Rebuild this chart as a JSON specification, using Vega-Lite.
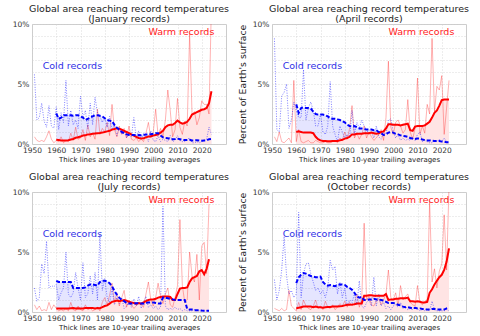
{
"$schema":"https://vega.github.io/schema/vega-lite/v6.json",
"padding":{"left":11,"top":3,"right":0,"bottom":0},
"config":{"font":"DejaVu Sans","view":{"stroke":"#cccccc","strokeWidth":1},
"axis":{"labelFont":"DejaVu Sans","labelFontSize":7.5,"labelColor":"#333333","labelOverlap":false,"domain":false,"ticks":false,"gridColor":"#d0d0d0","gridDash":[1,2],"gridWidth":0.8,"titleFont":"DejaVu Sans","titleFontWeight":"normal","titleColor":"#222222"},
"title":{"font":"DejaVu Sans","fontSize":9.5,"fontWeight":"normal","color":"#222222","lineHeight":10,"offset":-3,"frame":"group"}},
"datasets":{"d":[
{"m":"Jan","yr":1951,"c":5.8,"w":0.6},{"m":"Jan","yr":1952,"c":2.0,"w":0.3},{"m":"Jan","yr":1953,"c":2.2,"w":0.2},{"m":"Jan","yr":1954,"c":3.4,"w":0.3},{"m":"Jan","yr":1955,"c":1.9,"w":0.2},{"m":"Jan","yr":1956,"c":1.4,"w":0.6},{"m":"Jan","yr":1957,"c":3.2,"w":1.1},{"m":"Jan","yr":1958,"c":1.5,"w":0.4},{"m":"Jan","yr":1959,"c":1.3,"w":0.1},
{"m":"Jan","yr":1960,"c":3.1,"w":0.3,"ca":2.55,"wa":0.35},{"m":"Jan","yr":1961,"c":1.2,"w":0.2,"ca":2.1,"wa":0.33},{"m":"Jan","yr":1962,"c":2.6,"w":0.6,"ca":2.2,"wa":0.3},{"m":"Jan","yr":1963,"c":1.8,"w":0.1,"ca":2.4,"wa":0.3},{"m":"Jan","yr":1964,"c":5.3,"w":0.3,"ca":2.4,"wa":0.3},{"m":"Jan","yr":1965,"c":1.5,"w":0.2,"ca":2.4,"wa":0.32},{"m":"Jan","yr":1966,"c":2.8,"w":0.9,"ca":2.4,"wa":0.38},{"m":"Jan","yr":1967,"c":1.6,"w":0.3,"ca":2.35,"wa":0.42},{"m":"Jan","yr":1968,"c":2.0,"w":1.4,"ca":2.4,"wa":0.52},{"m":"Jan","yr":1969,"c":1.3,"w":0.4,"ca":2.4,"wa":0.56},
{"m":"Jan","yr":1970,"c":4.0,"w":0.5,"ca":2.3,"wa":0.62},{"m":"Jan","yr":1971,"c":2.2,"w":1.2,"ca":2.2,"wa":0.7},{"m":"Jan","yr":1972,"c":2.8,"w":0.3,"ca":2.0,"wa":0.72},{"m":"Jan","yr":1973,"c":1.3,"w":1.6,"ca":2.1,"wa":0.8},{"m":"Jan","yr":1974,"c":3.4,"w":0.6,"ca":2.2,"wa":0.82},{"m":"Jan","yr":1975,"c":1.6,"w":0.9,"ca":2.3,"wa":0.85},{"m":"Jan","yr":1976,"c":3.9,"w":0.4,"ca":2.4,"wa":0.88},{"m":"Jan","yr":1977,"c":2.6,"w":2.9,"ca":2.4,"wa":0.9},{"m":"Jan","yr":1978,"c":2.3,"w":0.8,"ca":2.35,"wa":0.92},{"m":"Jan","yr":1979,"c":1.8,"w":1.3,"ca":2.3,"wa":0.95},
{"m":"Jan","yr":1980,"c":2.2,"w":1.0,"ca":2.15,"wa":1.0},{"m":"Jan","yr":1981,"c":1.4,"w":1.8,"ca":2.0,"wa":1.05},{"m":"Jan","yr":1982,"c":2.3,"w":0.7,"ca":1.95,"wa":1.1},{"m":"Jan","yr":1983,"c":1.2,"w":3.3,"ca":1.9,"wa":1.2},{"m":"Jan","yr":1984,"c":1.6,"w":1.2,"ca":1.6,"wa":1.25},{"m":"Jan","yr":1985,"c":0.7,"w":0.6,"ca":1.35,"wa":1.3},{"m":"Jan","yr":1986,"c":1.3,"w":1.5,"ca":1.2,"wa":1.28},{"m":"Jan","yr":1987,"c":0.8,"w":0.8,"ca":1.0,"wa":1.2},{"m":"Jan","yr":1988,"c":1.1,"w":1.3,"ca":0.9,"wa":1.1},{"m":"Jan","yr":1989,"c":0.5,"w":0.5,"ca":0.8,"wa":1.0},
{"m":"Jan","yr":1990,"c":0.9,"w":1.5,"ca":0.75,"wa":0.9},{"m":"Jan","yr":1991,"c":0.6,"w":0.4,"ca":0.75,"wa":0.8},{"m":"Jan","yr":1992,"c":2.2,"w":0.3,"ca":0.75,"wa":0.7},{"m":"Jan","yr":1993,"c":0.5,"w":0.5,"ca":0.72,"wa":0.6},{"m":"Jan","yr":1994,"c":1.1,"w":0.2,"ca":0.75,"wa":0.5},{"m":"Jan","yr":1995,"c":0.4,"w":0.4,"ca":0.72,"wa":0.45},{"m":"Jan","yr":1996,"c":0.9,"w":0.2,"ca":0.75,"wa":0.47},{"m":"Jan","yr":1997,"c":0.6,"w":0.9,"ca":0.8,"wa":0.55},{"m":"Jan","yr":1998,"c":0.2,"w":1.8,"ca":0.8,"wa":0.62},{"m":"Jan","yr":1999,"c":1.1,"w":0.5,"ca":0.82,"wa":0.65},
{"m":"Jan","yr":2000,"c":0.3,"w":1.0,"ca":0.85,"wa":0.7},{"m":"Jan","yr":2001,"c":0.2,"w":2.9,"ca":0.9,"wa":0.75},{"m":"Jan","yr":2002,"c":0.7,"w":0.7,"ca":0.9,"wa":0.8},{"m":"Jan","yr":2003,"c":0.2,"w":1.3,"ca":0.7,"wa":0.95},{"m":"Jan","yr":2004,"c":0.4,"w":0.6,"ca":0.55,"wa":1.1},{"m":"Jan","yr":2005,"c":0.3,"w":2.0,"ca":0.5,"wa":1.4},{"m":"Jan","yr":2006,"c":0.2,"w":4.5,"ca":0.48,"wa":1.55},{"m":"Jan","yr":2007,"c":0.7,"w":2.8,"ca":0.42,"wa":1.6},{"m":"Jan","yr":2008,"c":0.2,"w":0.6,"ca":0.4,"wa":1.6},{"m":"Jan","yr":2009,"c":0.3,"w":1.2,"ca":0.42,"wa":1.75},
{"m":"Jan","yr":2010,"c":0.7,"w":3.8,"ca":0.45,"wa":1.95},{"m":"Jan","yr":2011,"c":0.3,"w":1.4,"ca":0.4,"wa":1.8},{"m":"Jan","yr":2012,"c":0.2,"w":0.8,"ca":0.35,"wa":1.7},{"m":"Jan","yr":2013,"c":0.2,"w":1.9,"ca":0.33,"wa":1.75},{"m":"Jan","yr":2014,"c":0.4,"w":1.5,"ca":0.33,"wa":1.85},{"m":"Jan","yr":2015,"c":0.5,"w":9.2,"ca":0.35,"wa":2.1},{"m":"Jan","yr":2016,"c":0.1,"w":2.5,"ca":0.3,"wa":2.45},{"m":"Jan","yr":2017,"c":0.1,"w":2.7,"ca":0.3,"wa":2.55},{"m":"Jan","yr":2018,"c":0.2,"w":1.6,"ca":0.32,"wa":2.65},{"m":"Jan","yr":2019,"c":0.1,"w":2.2,"ca":0.3,"wa":2.75},
{"m":"Jan","yr":2020,"c":0.2,"w":3.6,"ca":0.28,"wa":2.85},{"m":"Jan","yr":2021,"c":0.3,"w":3.3,"ca":0.3,"wa":2.9},{"m":"Jan","yr":2022,"c":0.4,"w":3.3,"ca":0.3,"wa":3.0},{"m":"Jan","yr":2023,"c":1.4,"w":2.5,"ca":0.4,"wa":3.4},{"m":"Jan","yr":2024,"c":0.8,"w":11.8,"ca":0.42,"wa":4.4},

{"m":"Apr","yr":1951,"c":8.8,"w":0.6},{"m":"Apr","yr":1952,"c":1.2,"w":0.2},{"m":"Apr","yr":1953,"c":1.0,"w":1.0},{"m":"Apr","yr":1954,"c":4.0,"w":0.2},{"m":"Apr","yr":1955,"c":4.3,"w":0.1},{"m":"Apr","yr":1956,"c":5.0,"w":0.3},{"m":"Apr","yr":1957,"c":1.3,"w":0.5},{"m":"Apr","yr":1958,"c":2.0,"w":0.1},{"m":"Apr","yr":1959,"c":3.5,"w":5.3},
{"m":"Apr","yr":1960,"c":2.8,"w":0.2,"ca":3.3,"wa":1.0},{"m":"Apr","yr":1961,"c":2.2,"w":1.2,"ca":2.6,"wa":1.05},{"m":"Apr","yr":1962,"c":2.2,"w":0.2,"ca":3.0,"wa":1.0},{"m":"Apr","yr":1963,"c":6.2,"w":0.1,"ca":3.05,"wa":0.95},{"m":"Apr","yr":1964,"c":2.0,"w":0.2,"ca":3.0,"wa":0.95},{"m":"Apr","yr":1965,"c":3.0,"w":0.3,"ca":3.0,"wa":0.95},{"m":"Apr","yr":1966,"c":3.5,"w":0.1,"ca":2.95,"wa":0.95},{"m":"Apr","yr":1967,"c":2.8,"w":0.1,"ca":2.7,"wa":0.9},{"m":"Apr","yr":1968,"c":1.5,"w":0.3,"ca":2.5,"wa":0.6},{"m":"Apr","yr":1969,"c":1.5,"w":0.2,"ca":2.45,"wa":0.4},
{"m":"Apr","yr":1970,"c":2.5,"w":0.1,"ca":2.45,"wa":0.3},{"m":"Apr","yr":1971,"c":1.0,"w":0.1,"ca":2.45,"wa":0.25},{"m":"Apr","yr":1972,"c":0.8,"w":0.2,"ca":2.4,"wa":0.25},{"m":"Apr","yr":1973,"c":1.5,"w":0.1,"ca":2.3,"wa":0.22},{"m":"Apr","yr":1974,"c":5.2,"w":0.1,"ca":2.15,"wa":0.22},{"m":"Apr","yr":1975,"c":1.5,"w":0.2,"ca":2.1,"wa":0.25},{"m":"Apr","yr":1976,"c":0.8,"w":0.3,"ca":2.1,"wa":0.25},{"m":"Apr","yr":1977,"c":0.2,"w":0.1,"ca":2.05,"wa":0.25},{"m":"Apr","yr":1978,"c":1.5,"w":0.5,"ca":2.0,"wa":0.3},{"m":"Apr","yr":1979,"c":1.0,"w":0.3,"ca":1.9,"wa":0.35},
{"m":"Apr","yr":1980,"c":0.5,"w":1.0,"ca":1.8,"wa":0.45},{"m":"Apr","yr":1981,"c":0.8,"w":0.4,"ca":1.6,"wa":0.5},{"m":"Apr","yr":1982,"c":0.5,"w":1.3,"ca":1.5,"wa":0.6},{"m":"Apr","yr":1983,"c":2.8,"w":3.2,"ca":1.45,"wa":0.8},{"m":"Apr","yr":1984,"c":0.8,"w":0.5,"ca":1.5,"wa":0.8},{"m":"Apr","yr":1985,"c":1.8,"w":0.9,"ca":1.4,"wa":0.85},{"m":"Apr","yr":1986,"c":1.3,"w":0.4,"ca":1.3,"wa":0.85},{"m":"Apr","yr":1987,"c":2.0,"w":0.8,"ca":1.3,"wa":0.85},{"m":"Apr","yr":1988,"c":1.5,"w":1.5,"ca":1.25,"wa":0.9},{"m":"Apr","yr":1989,"c":1.2,"w":0.5,"ca":1.2,"wa":0.9},
{"m":"Apr","yr":1990,"c":0.8,"w":1.0,"ca":1.2,"wa":0.9},{"m":"Apr","yr":1991,"c":1.0,"w":0.6,"ca":1.2,"wa":0.95},{"m":"Apr","yr":1992,"c":0.5,"w":0.3,"ca":1.15,"wa":0.9},{"m":"Apr","yr":1993,"c":1.5,"w":0.5,"ca":1.15,"wa":0.85},{"m":"Apr","yr":1994,"c":0.6,"w":0.8,"ca":1.0,"wa":0.9},{"m":"Apr","yr":1995,"c":0.4,"w":1.2,"ca":0.9,"wa":1.0},{"m":"Apr","yr":1996,"c":1.0,"w":0.3,"ca":0.75,"wa":1.05},{"m":"Apr","yr":1997,"c":0.8,"w":2.2,"ca":0.8,"wa":1.3},{"m":"Apr","yr":1998,"c":2.0,"w":6.9,"ca":0.95,"wa":1.65},{"m":"Apr","yr":1999,"c":2.1,"w":1.4,"ca":1.0,"wa":1.65},
{"m":"Apr","yr":2000,"c":1.0,"w":0.8,"ca":0.95,"wa":1.6},{"m":"Apr","yr":2001,"c":0.5,"w":1.8,"ca":0.85,"wa":1.6},{"m":"Apr","yr":2002,"c":0.8,"w":2.0,"ca":0.8,"wa":1.6},{"m":"Apr","yr":2003,"c":0.3,"w":1.5,"ca":0.72,"wa":1.55},{"m":"Apr","yr":2004,"c":0.5,"w":0.9,"ca":0.68,"wa":1.6},{"m":"Apr","yr":2005,"c":0.3,"w":1.2,"ca":0.65,"wa":1.65},{"m":"Apr","yr":2006,"c":0.4,"w":3.7,"ca":0.6,"wa":1.7},{"m":"Apr","yr":2007,"c":0.3,"w":1.0,"ca":0.5,"wa":1.15},{"m":"Apr","yr":2008,"c":0.6,"w":0.4,"ca":0.45,"wa":1.1},{"m":"Apr","yr":2009,"c":0.3,"w":1.3,"ca":0.42,"wa":1.45},
{"m":"Apr","yr":2010,"c":0.8,"w":5.5,"ca":0.45,"wa":1.5},{"m":"Apr","yr":2011,"c":1.0,"w":0.8,"ca":0.45,"wa":1.5},{"m":"Apr","yr":2012,"c":0.2,"w":1.5,"ca":0.38,"wa":1.5},{"m":"Apr","yr":2013,"c":0.3,"w":0.9,"ca":0.32,"wa":1.55},{"m":"Apr","yr":2014,"c":0.2,"w":3.3,"ca":0.3,"wa":1.7},{"m":"Apr","yr":2015,"c":0.1,"w":2.5,"ca":0.3,"wa":1.85},{"m":"Apr","yr":2016,"c":0.1,"w":8.8,"ca":0.27,"wa":2.2},{"m":"Apr","yr":2017,"c":0.3,"w":2.7,"ca":0.25,"wa":2.6},{"m":"Apr","yr":2018,"c":0.2,"w":4.8,"ca":0.25,"wa":2.8},{"m":"Apr","yr":2019,"c":0.4,"w":4.5,"ca":0.25,"wa":3.2},
{"m":"Apr","yr":2020,"c":0.2,"w":5.7,"ca":0.2,"wa":3.65},{"m":"Apr","yr":2021,"c":0.5,"w":0.8,"ca":0.2,"wa":3.7},{"m":"Apr","yr":2022,"c":0.2,"w":3.0,"ca":0.15,"wa":3.7},{"m":"Apr","yr":2023,"c":0.1,"w":5.3,"ca":0.15,"wa":3.7},

{"m":"Jul","yr":1951,"c":2.0,"w":0.6},{"m":"Jul","yr":1952,"c":0.9,"w":0.2},{"m":"Jul","yr":1953,"c":1.2,"w":0.5},{"m":"Jul","yr":1954,"c":4.0,"w":0.1},{"m":"Jul","yr":1955,"c":3.2,"w":0.2},{"m":"Jul","yr":1956,"c":5.9,"w":0.1},{"m":"Jul","yr":1957,"c":2.0,"w":0.8},{"m":"Jul","yr":1958,"c":2.2,"w":0.2},{"m":"Jul","yr":1959,"c":2.1,"w":0.6},
{"m":"Jul","yr":1960,"c":2.3,"w":0.3,"ca":2.6,"wa":0.3},{"m":"Jul","yr":1961,"c":1.0,"w":0.1,"ca":2.5,"wa":0.3},{"m":"Jul","yr":1962,"c":1.6,"w":0.2,"ca":2.5,"wa":0.3},{"m":"Jul","yr":1963,"c":2.0,"w":0.1,"ca":2.5,"wa":0.3},{"m":"Jul","yr":1964,"c":5.0,"w":0.3,"ca":2.5,"wa":0.3},{"m":"Jul","yr":1965,"c":1.5,"w":0.1,"ca":2.5,"wa":0.3},{"m":"Jul","yr":1966,"c":1.2,"w":0.8,"ca":2.5,"wa":0.32},{"m":"Jul","yr":1967,"c":1.6,"w":0.2,"ca":2.0,"wa":0.33},{"m":"Jul","yr":1968,"c":3.3,"w":0.1,"ca":2.0,"wa":0.3},{"m":"Jul","yr":1969,"c":2.0,"w":0.5,"ca":2.0,"wa":0.32},
{"m":"Jul","yr":1970,"c":1.0,"w":0.2,"ca":2.0,"wa":0.3},{"m":"Jul","yr":1971,"c":4.1,"w":0.1,"ca":2.0,"wa":0.3},{"m":"Jul","yr":1972,"c":1.2,"w":0.6,"ca":2.05,"wa":0.33},{"m":"Jul","yr":1973,"c":1.5,"w":0.2,"ca":2.2,"wa":0.33},{"m":"Jul","yr":1974,"c":3.0,"w":0.3,"ca":2.3,"wa":0.33},{"m":"Jul","yr":1975,"c":1.5,"w":0.1,"ca":2.3,"wa":0.33},{"m":"Jul","yr":1976,"c":3.3,"w":0.2,"ca":2.25,"wa":0.3},{"m":"Jul","yr":1977,"c":1.0,"w":0.4,"ca":2.2,"wa":0.33},{"m":"Jul","yr":1978,"c":6.5,"w":0.1,"ca":2.5,"wa":0.32},{"m":"Jul","yr":1979,"c":1.8,"w":0.8,"ca":2.6,"wa":0.4},
{"m":"Jul","yr":1980,"c":2.8,"w":1.2,"ca":2.6,"wa":0.5},{"m":"Jul","yr":1981,"c":1.2,"w":0.6,"ca":2.55,"wa":0.55},{"m":"Jul","yr":1982,"c":0.8,"w":1.4,"ca":2.4,"wa":0.7},{"m":"Jul","yr":1983,"c":1.9,"w":2.4,"ca":2.15,"wa":0.85},{"m":"Jul","yr":1984,"c":0.6,"w":0.8,"ca":1.75,"wa":0.9},{"m":"Jul","yr":1985,"c":1.2,"w":1.6,"ca":1.45,"wa":0.95},{"m":"Jul","yr":1986,"c":0.7,"w":0.5,"ca":1.2,"wa":0.9},{"m":"Jul","yr":1987,"c":1.2,"w":1.2,"ca":1.0,"wa":0.95},{"m":"Jul","yr":1988,"c":0.3,"w":1.8,"ca":0.9,"wa":1.0},{"m":"Jul","yr":1989,"c":0.5,"w":0.4,"ca":0.75,"wa":0.95},
{"m":"Jul","yr":1990,"c":0.9,"w":1.0,"ca":0.7,"wa":0.85},{"m":"Jul","yr":1991,"c":0.4,"w":0.6,"ca":0.7,"wa":0.8},{"m":"Jul","yr":1992,"c":1.1,"w":0.3,"ca":0.7,"wa":0.75},{"m":"Jul","yr":1993,"c":0.5,"w":0.5,"ca":0.72,"wa":0.7},{"m":"Jul","yr":1994,"c":1.3,"w":0.8,"ca":0.72,"wa":0.75},{"m":"Jul","yr":1995,"c":0.3,"w":0.6,"ca":0.7,"wa":0.7},{"m":"Jul","yr":1996,"c":0.8,"w":0.4,"ca":0.7,"wa":0.8},{"m":"Jul","yr":1997,"c":1.3,"w":1.5,"ca":0.75,"wa":0.9},{"m":"Jul","yr":1998,"c":0.4,"w":2.5,"ca":0.8,"wa":1.0},{"m":"Jul","yr":1999,"c":0.6,"w":1.0,"ca":0.8,"wa":1.05},
{"m":"Jul","yr":2000,"c":0.3,"w":0.5,"ca":0.8,"wa":1.05},{"m":"Jul","yr":2001,"c":0.5,"w":1.2,"ca":0.75,"wa":1.1},{"m":"Jul","yr":2002,"c":0.2,"w":2.4,"ca":0.7,"wa":1.2},{"m":"Jul","yr":2003,"c":0.4,"w":1.3,"ca":0.7,"wa":1.25},{"m":"Jul","yr":2004,"c":8.8,"w":0.7,"ca":1.2,"wa":1.3},{"m":"Jul","yr":2005,"c":0.5,"w":1.5,"ca":1.2,"wa":1.3},{"m":"Jul","yr":2006,"c":0.2,"w":2.0,"ca":1.15,"wa":1.3},{"m":"Jul","yr":2007,"c":0.3,"w":0.6,"ca":1.1,"wa":1.25},{"m":"Jul","yr":2008,"c":0.2,"w":0.4,"ca":1.05,"wa":1.0},{"m":"Jul","yr":2009,"c":0.4,"w":1.2,"ca":1.0,"wa":1.0},
{"m":"Jul","yr":2010,"c":0.2,"w":2.2,"ca":1.0,"wa":1.5},{"m":"Jul","yr":2011,"c":0.3,"w":7.7,"ca":1.0,"wa":1.95},{"m":"Jul","yr":2012,"c":0.1,"w":2.2,"ca":1.0,"wa":2.0},{"m":"Jul","yr":2013,"c":0.2,"w":0.8,"ca":1.0,"wa":2.0},{"m":"Jul","yr":2014,"c":0.1,"w":1.0,"ca":0.25,"wa":2.05},{"m":"Jul","yr":2015,"c":0.1,"w":5.0,"ca":0.2,"wa":2.5},{"m":"Jul","yr":2016,"c":0.1,"w":3.0,"ca":0.2,"wa":2.8},{"m":"Jul","yr":2017,"c":0.2,"w":2.5,"ca":0.15,"wa":2.9},{"m":"Jul","yr":2018,"c":0.1,"w":4.8,"ca":0.15,"wa":3.0},{"m":"Jul","yr":2019,"c":0.1,"w":1.0,"ca":0.15,"wa":3.4},
{"m":"Jul","yr":2020,"c":0.1,"w":5.5,"ca":0.12,"wa":3.5},{"m":"Jul","yr":2021,"c":0.1,"w":5.8,"ca":0.1,"wa":3.15},{"m":"Jul","yr":2022,"c":0.1,"w":3.2,"ca":0.1,"wa":3.6},{"m":"Jul","yr":2023,"c":0.1,"w":9.0,"ca":0.1,"wa":4.4},

{"m":"Oct","yr":1951,"c":2.7,"w":0.3},{"m":"Oct","yr":1952,"c":1.0,"w":0.2},{"m":"Oct","yr":1953,"c":1.8,"w":0.1},{"m":"Oct","yr":1954,"c":3.5,"w":0.3},{"m":"Oct","yr":1955,"c":6.3,"w":0.1},{"m":"Oct","yr":1956,"c":3.0,"w":0.2},{"m":"Oct","yr":1957,"c":1.5,"w":1.8},{"m":"Oct","yr":1958,"c":1.8,"w":0.5},{"m":"Oct","yr":1959,"c":1.2,"w":0.3},
{"m":"Oct","yr":1960,"c":1.5,"w":0.1,"ca":2.4,"wa":0.3},{"m":"Oct","yr":1961,"c":8.3,"w":0.8,"ca":2.9,"wa":0.35},{"m":"Oct","yr":1962,"c":1.2,"w":0.2,"ca":3.1,"wa":0.4},{"m":"Oct","yr":1963,"c":3.2,"w":1.0,"ca":3.25,"wa":0.45},{"m":"Oct","yr":1964,"c":4.0,"w":0.5,"ca":3.2,"wa":0.45},{"m":"Oct","yr":1965,"c":4.1,"w":0.3,"ca":3.1,"wa":0.45},{"m":"Oct","yr":1966,"c":3.2,"w":0.2,"ca":3.0,"wa":0.45},{"m":"Oct","yr":1967,"c":2.5,"w":0.5,"ca":2.95,"wa":0.4},{"m":"Oct","yr":1968,"c":1.8,"w":1.0,"ca":2.9,"wa":0.45},{"m":"Oct","yr":1969,"c":2.0,"w":0.3,"ca":2.9,"wa":0.4},
{"m":"Oct","yr":1970,"c":1.5,"w":0.5,"ca":2.95,"wa":0.4},{"m":"Oct","yr":1971,"c":1.8,"w":0.2,"ca":2.5,"wa":0.35},{"m":"Oct","yr":1972,"c":1.2,"w":0.9,"ca":2.3,"wa":0.4},{"m":"Oct","yr":1973,"c":2.0,"w":0.4,"ca":2.2,"wa":0.42},{"m":"Oct","yr":1974,"c":4.3,"w":0.3,"ca":2.25,"wa":0.42},{"m":"Oct","yr":1975,"c":3.5,"w":0.6,"ca":2.2,"wa":0.45},{"m":"Oct","yr":1976,"c":3.8,"w":0.2,"ca":2.15,"wa":0.45},{"m":"Oct","yr":1977,"c":1.5,"w":0.4,"ca":2.25,"wa":0.45},{"m":"Oct","yr":1978,"c":2.5,"w":0.7,"ca":2.3,"wa":0.48},{"m":"Oct","yr":1979,"c":1.2,"w":0.5,"ca":2.3,"wa":0.5},
{"m":"Oct","yr":1980,"c":2.0,"w":0.9,"ca":2.25,"wa":0.55},{"m":"Oct","yr":1981,"c":0.5,"w":0.4,"ca":2.1,"wa":0.6},{"m":"Oct","yr":1982,"c":1.0,"w":0.8,"ca":2.0,"wa":0.6},{"m":"Oct","yr":1983,"c":0.8,"w":0.5,"ca":1.85,"wa":0.62},{"m":"Oct","yr":1984,"c":1.5,"w":0.7,"ca":1.6,"wa":0.65},{"m":"Oct","yr":1985,"c":0.6,"w":1.5,"ca":1.3,"wa":0.7},{"m":"Oct","yr":1986,"c":2.6,"w":0.4,"ca":1.2,"wa":0.7},{"m":"Oct","yr":1987,"c":0.5,"w":1.0,"ca":1.25,"wa":0.7},{"m":"Oct","yr":1988,"c":0.3,"w":7.4,"ca":1.0,"wa":1.35},{"m":"Oct","yr":1989,"c":0.8,"w":1.0,"ca":1.0,"wa":1.35},
{"m":"Oct","yr":1990,"c":1.0,"w":1.3,"ca":1.05,"wa":1.4},{"m":"Oct","yr":1991,"c":0.5,"w":0.6,"ca":1.05,"wa":1.4},{"m":"Oct","yr":1992,"c":2.9,"w":0.5,"ca":1.1,"wa":1.35},{"m":"Oct","yr":1993,"c":0.5,"w":0.9,"ca":1.05,"wa":1.35},{"m":"Oct","yr":1994,"c":1.5,"w":1.1,"ca":1.05,"wa":1.35},{"m":"Oct","yr":1995,"c":0.5,"w":0.6,"ca":1.0,"wa":1.35},{"m":"Oct","yr":1996,"c":0.8,"w":1.0,"ca":0.95,"wa":1.35},{"m":"Oct","yr":1997,"c":0.3,"w":1.5,"ca":0.85,"wa":1.5},{"m":"Oct","yr":1998,"c":0.5,"w":3.5,"ca":0.75,"wa":1.0},{"m":"Oct","yr":1999,"c":0.2,"w":1.2,"ca":0.75,"wa":1.05},
{"m":"Oct","yr":2000,"c":0.5,"w":1.0,"ca":0.75,"wa":1.05},{"m":"Oct","yr":2001,"c":0.6,"w":1.6,"ca":0.7,"wa":1.1},{"m":"Oct","yr":2002,"c":0.4,"w":0.5,"ca":0.6,"wa":1.1},{"m":"Oct","yr":2003,"c":0.8,"w":2.2,"ca":0.55,"wa":1.15},{"m":"Oct","yr":2004,"c":0.3,"w":1.0,"ca":0.45,"wa":1.15},{"m":"Oct","yr":2005,"c":0.5,"w":1.3,"ca":0.4,"wa":1.15},{"m":"Oct","yr":2006,"c":0.2,"w":1.5,"ca":0.4,"wa":1.2},{"m":"Oct","yr":2007,"c":0.3,"w":0.8,"ca":0.35,"wa":0.9},{"m":"Oct","yr":2008,"c":0.2,"w":0.6,"ca":0.3,"wa":0.9},{"m":"Oct","yr":2009,"c":0.4,"w":0.5,"ca":0.35,"wa":0.85},
{"m":"Oct","yr":2010,"c":0.3,"w":2.2,"ca":0.3,"wa":0.9},{"m":"Oct","yr":2011,"c":0.1,"w":0.8,"ca":0.3,"wa":0.85},{"m":"Oct","yr":2012,"c":0.2,"w":0.6,"ca":0.25,"wa":0.8},{"m":"Oct","yr":2013,"c":0.1,"w":0.9,"ca":0.25,"wa":0.8},{"m":"Oct","yr":2014,"c":0.2,"w":1.0,"ca":0.2,"wa":0.85},{"m":"Oct","yr":2015,"c":0.1,"w":9.2,"ca":0.2,"wa":1.6},{"m":"Oct","yr":2016,"c":0.9,"w":2.5,"ca":0.25,"wa":1.9},{"m":"Oct","yr":2017,"c":0.2,"w":3.6,"ca":0.25,"wa":2.3},{"m":"Oct","yr":2018,"c":0.1,"w":2.0,"ca":0.2,"wa":2.6},{"m":"Oct","yr":2019,"c":0.1,"w":3.4,"ca":0.2,"wa":2.9},
{"m":"Oct","yr":2020,"c":0.1,"w":4.0,"ca":0.2,"wa":3.1},{"m":"Oct","yr":2021,"c":0.1,"w":8.1,"ca":0.2,"wa":3.5},{"m":"Oct","yr":2022,"c":0.2,"w":3.5,"ca":0.3,"wa":4.2},{"m":"Oct","yr":2023,"c":0.1,"w":10.5,"ca":0.35,"wa":5.3}
]},
"columns":2,
"bounds":"flush",
"spacing":{"row":48,"column":46},
"concat":[
{"width":194,"height":120,"title":{"text":["Global area reaching record temperatures","(January records)"]},
"layer":[
{"data":{"name":"d"},"transform":[{"filter":"datum.m == 'Jan'"}],
"encoding":{"x":{"field":"yr","type":"quantitative","scale":{"domain":[1950,2030],"nice":false,"zero":false},"axis":{"values":[1950,1960,1970,1980,1990,2000,2010,2020],"format":"d","labelFlush":false,"labelOverlap":false,"title":"Thick lines are 10-year trailing averages","titleFontSize":7,"labelPadding":2,"titlePadding":2}}},
"layer":[
{"mark":{"type":"area","color":"#0000ff","opacity":0.1},"encoding":{"y":{"field":"ca","type":"quantitative","scale":{"domain":[0,10]},"axis":{"title":null,"values":[0,1,2,3,4,5,6,7,8,9,10],"labelExpr":"datum.value % 5 == 0 ? datum.value + '%' : ''","labelOverlap":false,"labelPadding":3}}}},
{"mark":{"type":"area","color":"#ffe4e4","opacity":1},"encoding":{"y":{"field":"wa","type":"quantitative","scale":{"domain":[0,10]},"axis":{"title":null,"values":[0,1,2,3,4,5,6,7,8,9,10],"labelExpr":"datum.value % 5 == 0 ? datum.value + '%' : ''","labelOverlap":false,"labelPadding":3}}}},
{"mark":{"type":"line","color":"#ff0000","strokeWidth":1,"opacity":0.3,"clip":true},"encoding":{"y":{"field":"w","type":"quantitative","scale":{"domain":[0,10]},"axis":{"title":null,"values":[0,1,2,3,4,5,6,7,8,9,10],"labelExpr":"datum.value % 5 == 0 ? datum.value + '%' : ''","labelOverlap":false,"labelPadding":3}}}},
{"mark":{"type":"line","color":"#0000ff","strokeWidth":1,"opacity":0.5,"strokeDash":[1,1.5]},"encoding":{"y":{"field":"c","type":"quantitative","scale":{"domain":[0,10]},"axis":{"title":null,"values":[0,1,2,3,4,5,6,7,8,9,10],"labelExpr":"datum.value % 5 == 0 ? datum.value + '%' : ''","labelOverlap":false,"labelPadding":3}}}},
{"mark":{"type":"line","color":"#ff0000","strokeWidth":2},"encoding":{"y":{"field":"wa","type":"quantitative","scale":{"domain":[0,10]},"axis":{"title":null,"values":[0,1,2,3,4,5,6,7,8,9,10],"labelExpr":"datum.value % 5 == 0 ? datum.value + '%' : ''","labelOverlap":false,"labelPadding":3}}}},
{"mark":{"type":"line","color":"#0000ff","strokeWidth":2,"strokeDash":[4,2]},"encoding":{"y":{"field":"ca","type":"quantitative","scale":{"domain":[0,10]},"axis":{"title":null,"values":[0,1,2,3,4,5,6,7,8,9,10],"labelExpr":"datum.value % 5 == 0 ? datum.value + '%' : ''","labelOverlap":false,"labelPadding":3}}}}
]},
{"data":{"values":[{}]},"mark":{"type":"text","text":"Warm records","align":"right","baseline":"middle","color":"#ff1a1a","fontSize":9.5,"font":"DejaVu Sans"},"encoding":{"x":{"datum":2025.2,"type":"quantitative","scale":{"domain":[1950,2030],"nice":false,"zero":false},"axis":{"values":[1950,1960,1970,1980,1990,2000,2010,2020],"format":"d","labelFlush":false,"labelOverlap":false,"title":"Thick lines are 10-year trailing averages","titleFontSize":7,"labelPadding":2,"titlePadding":2}},"y":{"datum":9.3,"type":"quantitative","scale":{"domain":[0,10]},"axis":{"title":null,"values":[0,1,2,3,4,5,6,7,8,9,10],"labelExpr":"datum.value % 5 == 0 ? datum.value + '%' : ''","labelOverlap":false,"labelPadding":3}}}},
{"data":{"values":[{}]},"mark":{"type":"text","text":"Cold records","align":"left","baseline":"middle","color":"#2e2ee6","fontSize":9.5,"font":"DejaVu Sans"},"encoding":{"x":{"datum":1954.4,"type":"quantitative","scale":{"domain":[1950,2030],"nice":false,"zero":false},"axis":{"values":[1950,1960,1970,1980,1990,2000,2010,2020],"format":"d","labelFlush":false,"labelOverlap":false,"title":"Thick lines are 10-year trailing averages","titleFontSize":7,"labelPadding":2,"titlePadding":2}},"y":{"datum":6.5,"type":"quantitative","scale":{"domain":[0,10]},"axis":{"title":null,"values":[0,1,2,3,4,5,6,7,8,9,10],"labelExpr":"datum.value % 5 == 0 ? datum.value + '%' : ''","labelOverlap":false,"labelPadding":3}}}}
]},
{"width":194,"height":120,"title":{"text":["Global area reaching record temperatures","(April records)"]},
"layer":[
{"data":{"name":"d"},"transform":[{"filter":"datum.m == 'Apr'"}],
"encoding":{"x":{"field":"yr","type":"quantitative","scale":{"domain":[1950,2030],"nice":false,"zero":false},"axis":{"values":[1950,1960,1970,1980,1990,2000,2010,2020],"format":"d","labelFlush":false,"labelOverlap":false,"title":"Thick lines are 10-year trailing averages","titleFontSize":7,"labelPadding":2,"titlePadding":2}}},
"layer":[
{"mark":{"type":"area","color":"#0000ff","opacity":0.1},"encoding":{"y":{"field":"ca","type":"quantitative","scale":{"domain":[0,10]},"axis":{"title":"Percent of Earth's surface","values":[0,1,2,3,4,5,6,7,8,9,10],"labelExpr":"datum.value % 5 == 0 ? datum.value + '%' : ''","labelOverlap":false,"labelPadding":3,"titleFontSize":9.3,"titlePadding":5}}}},
{"mark":{"type":"area","color":"#ffe4e4","opacity":1},"encoding":{"y":{"field":"wa","type":"quantitative","scale":{"domain":[0,10]},"axis":{"title":"Percent of Earth's surface","values":[0,1,2,3,4,5,6,7,8,9,10],"labelExpr":"datum.value % 5 == 0 ? datum.value + '%' : ''","labelOverlap":false,"labelPadding":3,"titleFontSize":9.3,"titlePadding":5}}}},
{"mark":{"type":"line","color":"#ff0000","strokeWidth":1,"opacity":0.3,"clip":true},"encoding":{"y":{"field":"w","type":"quantitative","scale":{"domain":[0,10]},"axis":{"title":"Percent of Earth's surface","values":[0,1,2,3,4,5,6,7,8,9,10],"labelExpr":"datum.value % 5 == 0 ? datum.value + '%' : ''","labelOverlap":false,"labelPadding":3,"titleFontSize":9.3,"titlePadding":5}}}},
{"mark":{"type":"line","color":"#0000ff","strokeWidth":1,"opacity":0.5,"strokeDash":[1,1.5]},"encoding":{"y":{"field":"c","type":"quantitative","scale":{"domain":[0,10]},"axis":{"title":"Percent of Earth's surface","values":[0,1,2,3,4,5,6,7,8,9,10],"labelExpr":"datum.value % 5 == 0 ? datum.value + '%' : ''","labelOverlap":false,"labelPadding":3,"titleFontSize":9.3,"titlePadding":5}}}},
{"mark":{"type":"line","color":"#ff0000","strokeWidth":2},"encoding":{"y":{"field":"wa","type":"quantitative","scale":{"domain":[0,10]},"axis":{"title":"Percent of Earth's surface","values":[0,1,2,3,4,5,6,7,8,9,10],"labelExpr":"datum.value % 5 == 0 ? datum.value + '%' : ''","labelOverlap":false,"labelPadding":3,"titleFontSize":9.3,"titlePadding":5}}}},
{"mark":{"type":"line","color":"#0000ff","strokeWidth":2,"strokeDash":[4,2]},"encoding":{"y":{"field":"ca","type":"quantitative","scale":{"domain":[0,10]},"axis":{"title":"Percent of Earth's surface","values":[0,1,2,3,4,5,6,7,8,9,10],"labelExpr":"datum.value % 5 == 0 ? datum.value + '%' : ''","labelOverlap":false,"labelPadding":3,"titleFontSize":9.3,"titlePadding":5}}}}
]},
{"data":{"values":[{}]},"mark":{"type":"text","text":"Warm records","align":"right","baseline":"middle","color":"#ff1a1a","fontSize":9.5,"font":"DejaVu Sans"},"encoding":{"x":{"datum":2025.2,"type":"quantitative","scale":{"domain":[1950,2030],"nice":false,"zero":false},"axis":{"values":[1950,1960,1970,1980,1990,2000,2010,2020],"format":"d","labelFlush":false,"labelOverlap":false,"title":"Thick lines are 10-year trailing averages","titleFontSize":7,"labelPadding":2,"titlePadding":2}},"y":{"datum":9.3,"type":"quantitative","scale":{"domain":[0,10]},"axis":{"title":"Percent of Earth's surface","values":[0,1,2,3,4,5,6,7,8,9,10],"labelExpr":"datum.value % 5 == 0 ? datum.value + '%' : ''","labelOverlap":false,"labelPadding":3,"titleFontSize":9.3,"titlePadding":5}}}},
{"data":{"values":[{}]},"mark":{"type":"text","text":"Cold records","align":"left","baseline":"middle","color":"#2e2ee6","fontSize":9.5,"font":"DejaVu Sans"},"encoding":{"x":{"datum":1954.4,"type":"quantitative","scale":{"domain":[1950,2030],"nice":false,"zero":false},"axis":{"values":[1950,1960,1970,1980,1990,2000,2010,2020],"format":"d","labelFlush":false,"labelOverlap":false,"title":"Thick lines are 10-year trailing averages","titleFontSize":7,"labelPadding":2,"titlePadding":2}},"y":{"datum":6.5,"type":"quantitative","scale":{"domain":[0,10]},"axis":{"title":"Percent of Earth's surface","values":[0,1,2,3,4,5,6,7,8,9,10],"labelExpr":"datum.value % 5 == 0 ? datum.value + '%' : ''","labelOverlap":false,"labelPadding":3,"titleFontSize":9.3,"titlePadding":5}}}}
]},
{"width":194,"height":120,"title":{"text":["Global area reaching record temperatures","(July records)"]},
"layer":[
{"data":{"name":"d"},"transform":[{"filter":"datum.m == 'Jul'"}],
"encoding":{"x":{"field":"yr","type":"quantitative","scale":{"domain":[1950,2030],"nice":false,"zero":false},"axis":{"values":[1950,1960,1970,1980,1990,2000,2010,2020],"format":"d","labelFlush":false,"labelOverlap":false,"title":"Thick lines are 10-year trailing averages","titleFontSize":7,"labelPadding":2,"titlePadding":2}}},
"layer":[
{"mark":{"type":"area","color":"#0000ff","opacity":0.1},"encoding":{"y":{"field":"ca","type":"quantitative","scale":{"domain":[0,10]},"axis":{"title":null,"values":[0,1,2,3,4,5,6,7,8,9,10],"labelExpr":"datum.value % 5 == 0 ? datum.value + '%' : ''","labelOverlap":false,"labelPadding":3}}}},
{"mark":{"type":"area","color":"#ffe4e4","opacity":1},"encoding":{"y":{"field":"wa","type":"quantitative","scale":{"domain":[0,10]},"axis":{"title":null,"values":[0,1,2,3,4,5,6,7,8,9,10],"labelExpr":"datum.value % 5 == 0 ? datum.value + '%' : ''","labelOverlap":false,"labelPadding":3}}}},
{"mark":{"type":"line","color":"#ff0000","strokeWidth":1,"opacity":0.3,"clip":true},"encoding":{"y":{"field":"w","type":"quantitative","scale":{"domain":[0,10]},"axis":{"title":null,"values":[0,1,2,3,4,5,6,7,8,9,10],"labelExpr":"datum.value % 5 == 0 ? datum.value + '%' : ''","labelOverlap":false,"labelPadding":3}}}},
{"mark":{"type":"line","color":"#0000ff","strokeWidth":1,"opacity":0.5,"strokeDash":[1,1.5]},"encoding":{"y":{"field":"c","type":"quantitative","scale":{"domain":[0,10]},"axis":{"title":null,"values":[0,1,2,3,4,5,6,7,8,9,10],"labelExpr":"datum.value % 5 == 0 ? datum.value + '%' : ''","labelOverlap":false,"labelPadding":3}}}},
{"mark":{"type":"line","color":"#ff0000","strokeWidth":2},"encoding":{"y":{"field":"wa","type":"quantitative","scale":{"domain":[0,10]},"axis":{"title":null,"values":[0,1,2,3,4,5,6,7,8,9,10],"labelExpr":"datum.value % 5 == 0 ? datum.value + '%' : ''","labelOverlap":false,"labelPadding":3}}}},
{"mark":{"type":"line","color":"#0000ff","strokeWidth":2,"strokeDash":[4,2]},"encoding":{"y":{"field":"ca","type":"quantitative","scale":{"domain":[0,10]},"axis":{"title":null,"values":[0,1,2,3,4,5,6,7,8,9,10],"labelExpr":"datum.value % 5 == 0 ? datum.value + '%' : ''","labelOverlap":false,"labelPadding":3}}}}
]},
{"data":{"values":[{}]},"mark":{"type":"text","text":"Warm records","align":"right","baseline":"middle","color":"#ff1a1a","fontSize":9.5,"font":"DejaVu Sans"},"encoding":{"x":{"datum":2025.2,"type":"quantitative","scale":{"domain":[1950,2030],"nice":false,"zero":false},"axis":{"values":[1950,1960,1970,1980,1990,2000,2010,2020],"format":"d","labelFlush":false,"labelOverlap":false,"title":"Thick lines are 10-year trailing averages","titleFontSize":7,"labelPadding":2,"titlePadding":2}},"y":{"datum":9.3,"type":"quantitative","scale":{"domain":[0,10]},"axis":{"title":null,"values":[0,1,2,3,4,5,6,7,8,9,10],"labelExpr":"datum.value % 5 == 0 ? datum.value + '%' : ''","labelOverlap":false,"labelPadding":3}}}},
{"data":{"values":[{}]},"mark":{"type":"text","text":"Cold records","align":"left","baseline":"middle","color":"#2e2ee6","fontSize":9.5,"font":"DejaVu Sans"},"encoding":{"x":{"datum":1954.4,"type":"quantitative","scale":{"domain":[1950,2030],"nice":false,"zero":false},"axis":{"values":[1950,1960,1970,1980,1990,2000,2010,2020],"format":"d","labelFlush":false,"labelOverlap":false,"title":"Thick lines are 10-year trailing averages","titleFontSize":7,"labelPadding":2,"titlePadding":2}},"y":{"datum":6.5,"type":"quantitative","scale":{"domain":[0,10]},"axis":{"title":null,"values":[0,1,2,3,4,5,6,7,8,9,10],"labelExpr":"datum.value % 5 == 0 ? datum.value + '%' : ''","labelOverlap":false,"labelPadding":3}}}}
]},
{"width":194,"height":120,"title":{"text":["Global area reaching record temperatures","(October records)"]},
"layer":[
{"data":{"name":"d"},"transform":[{"filter":"datum.m == 'Oct'"}],
"encoding":{"x":{"field":"yr","type":"quantitative","scale":{"domain":[1950,2030],"nice":false,"zero":false},"axis":{"values":[1950,1960,1970,1980,1990,2000,2010,2020],"format":"d","labelFlush":false,"labelOverlap":false,"title":"Thick lines are 10-year trailing averages","titleFontSize":7,"labelPadding":2,"titlePadding":2}}},
"layer":[
{"mark":{"type":"area","color":"#0000ff","opacity":0.1},"encoding":{"y":{"field":"ca","type":"quantitative","scale":{"domain":[0,10]},"axis":{"title":"Percent of Earth's surface","values":[0,1,2,3,4,5,6,7,8,9,10],"labelExpr":"datum.value % 5 == 0 ? datum.value + '%' : ''","labelOverlap":false,"labelPadding":3,"titleFontSize":9.3,"titlePadding":5}}}},
{"mark":{"type":"area","color":"#ffe4e4","opacity":1},"encoding":{"y":{"field":"wa","type":"quantitative","scale":{"domain":[0,10]},"axis":{"title":"Percent of Earth's surface","values":[0,1,2,3,4,5,6,7,8,9,10],"labelExpr":"datum.value % 5 == 0 ? datum.value + '%' : ''","labelOverlap":false,"labelPadding":3,"titleFontSize":9.3,"titlePadding":5}}}},
{"mark":{"type":"line","color":"#ff0000","strokeWidth":1,"opacity":0.3,"clip":true},"encoding":{"y":{"field":"w","type":"quantitative","scale":{"domain":[0,10]},"axis":{"title":"Percent of Earth's surface","values":[0,1,2,3,4,5,6,7,8,9,10],"labelExpr":"datum.value % 5 == 0 ? datum.value + '%' : ''","labelOverlap":false,"labelPadding":3,"titleFontSize":9.3,"titlePadding":5}}}},
{"mark":{"type":"line","color":"#0000ff","strokeWidth":1,"opacity":0.5,"strokeDash":[1,1.5]},"encoding":{"y":{"field":"c","type":"quantitative","scale":{"domain":[0,10]},"axis":{"title":"Percent of Earth's surface","values":[0,1,2,3,4,5,6,7,8,9,10],"labelExpr":"datum.value % 5 == 0 ? datum.value + '%' : ''","labelOverlap":false,"labelPadding":3,"titleFontSize":9.3,"titlePadding":5}}}},
{"mark":{"type":"line","color":"#ff0000","strokeWidth":2},"encoding":{"y":{"field":"wa","type":"quantitative","scale":{"domain":[0,10]},"axis":{"title":"Percent of Earth's surface","values":[0,1,2,3,4,5,6,7,8,9,10],"labelExpr":"datum.value % 5 == 0 ? datum.value + '%' : ''","labelOverlap":false,"labelPadding":3,"titleFontSize":9.3,"titlePadding":5}}}},
{"mark":{"type":"line","color":"#0000ff","strokeWidth":2,"strokeDash":[4,2]},"encoding":{"y":{"field":"ca","type":"quantitative","scale":{"domain":[0,10]},"axis":{"title":"Percent of Earth's surface","values":[0,1,2,3,4,5,6,7,8,9,10],"labelExpr":"datum.value % 5 == 0 ? datum.value + '%' : ''","labelOverlap":false,"labelPadding":3,"titleFontSize":9.3,"titlePadding":5}}}}
]},
{"data":{"values":[{}]},"mark":{"type":"text","text":"Warm records","align":"right","baseline":"middle","color":"#ff1a1a","fontSize":9.5,"font":"DejaVu Sans"},"encoding":{"x":{"datum":2025.2,"type":"quantitative","scale":{"domain":[1950,2030],"nice":false,"zero":false},"axis":{"values":[1950,1960,1970,1980,1990,2000,2010,2020],"format":"d","labelFlush":false,"labelOverlap":false,"title":"Thick lines are 10-year trailing averages","titleFontSize":7,"labelPadding":2,"titlePadding":2}},"y":{"datum":9.3,"type":"quantitative","scale":{"domain":[0,10]},"axis":{"title":"Percent of Earth's surface","values":[0,1,2,3,4,5,6,7,8,9,10],"labelExpr":"datum.value % 5 == 0 ? datum.value + '%' : ''","labelOverlap":false,"labelPadding":3,"titleFontSize":9.3,"titlePadding":5}}}},
{"data":{"values":[{}]},"mark":{"type":"text","text":"Cold records","align":"left","baseline":"middle","color":"#2e2ee6","fontSize":9.5,"font":"DejaVu Sans"},"encoding":{"x":{"datum":1954.4,"type":"quantitative","scale":{"domain":[1950,2030],"nice":false,"zero":false},"axis":{"values":[1950,1960,1970,1980,1990,2000,2010,2020],"format":"d","labelFlush":false,"labelOverlap":false,"title":"Thick lines are 10-year trailing averages","titleFontSize":7,"labelPadding":2,"titlePadding":2}},"y":{"datum":6.5,"type":"quantitative","scale":{"domain":[0,10]},"axis":{"title":"Percent of Earth's surface","values":[0,1,2,3,4,5,6,7,8,9,10],"labelExpr":"datum.value % 5 == 0 ? datum.value + '%' : ''","labelOverlap":false,"labelPadding":3,"titleFontSize":9.3,"titlePadding":5}}}}
]}
]
}
